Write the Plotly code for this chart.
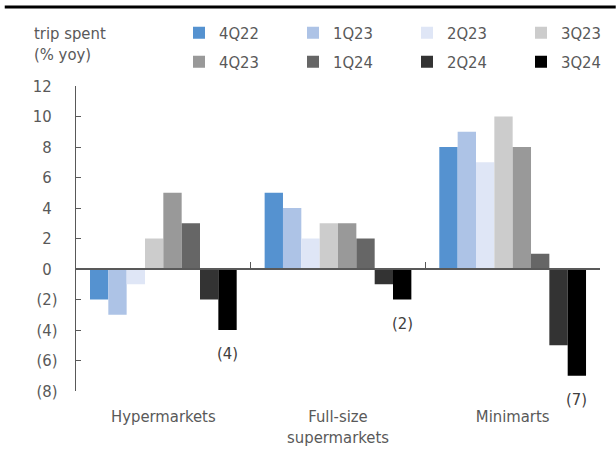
import plotly.graph_objects as go

# Per-trip spending growth by store format (% yoy)
categories = ["Hypermarkets", "Full-size<br>supermarkets", "Minimarts"]
quarters = ["4Q22", "1Q23", "2Q23", "3Q23", "4Q23", "1Q24", "2Q24", "3Q24"]
hypermarkets = [-2, -3, -1, 2, 5, 3, -2, -4]
full_size = [5, 4, 2, 3, 3, 2, -1, -2]
minimarts = [8, 9, 7, 10, 8, 1, -5, -7]
colors = ["#5592d0", "#adc3e6", "#dfe6f6", "#cccccc",
          "#999999", "#666666", "#333333", "#000000"]
y_ticks = [-8, -6, -4, -2, 0, 2, 4, 6, 8, 10, 12]

FONT = "DejaVu Sans Condensed, DejaVu Sans, sans-serif"
TXT = "#595959"
AXIS = "#595959"
FS = 16.5
BARGAP = 0.16


def fmt(v):
    return f"({abs(v)})" if v < 0 else f"{v}"


def fmt_axis(v):
    # accounting style: positives keep a hidden ")" so digits line up
    if v < 0:
        return fmt(v)
    return f'{v}<span style="color:rgba(0,0,0,0)">)</span>'


series = [list(vals) for vals in zip(hypermarkets, full_size, minimarts)]

fig = go.Figure()
for i, (q, vals) in enumerate(zip(quarters, series)):
    fig.add_trace(go.Bar(
        x=categories, y=vals, name=q,
        marker=dict(color=colors[i], line=dict(width=0)),
        legend="legend" if i < 4 else "legend2",
        hoverinfo="skip",
    ))

# carrier trace for the zero-line axis with its category boundary ticks
fig.add_trace(go.Scatter(x=[-0.5, 2.5], y=[0, 0], mode="none", xaxis="x2",
                         showlegend=False, hoverinfo="skip"))

# value labels under the last quarter's bars
n = len(quarters)
last_offset = (1 - BARGAP) * ((n - 0.5) / n - 0.5)
for i, v in enumerate(series[-1]):
    fig.add_annotation(x=i + last_offset, y=v, xref="x2", yref="y",
                       text=fmt(v), showarrow=False, yanchor="top", yshift=-12,
                       font=dict(family=FONT, size=FS, color="#404040"))

fig.add_annotation(xref="paper", yref="paper", x=-0.084, y=1.138,
                   xanchor="left", yanchor="middle", align="left",
                   text="trip spent<br>(% yoy)", showarrow=False,
                   font=dict(family=FONT, size=FS, color=TXT))

# rule across the top of the page
fig.add_shape(type="line", xref="paper", yref="paper",
              x0=-0.136, x1=1.03, y0=1.259, y1=1.259,
              line=dict(color="#000000", width=3))

leg_common = dict(orientation="h", xref="container", yref="container",
                  xanchor="left", yanchor="middle", entrywidth=69,
                  bgcolor="rgba(0,0,0,0)", borderwidth=0,
                  font=dict(family=FONT, size=FS, color=TXT))

fig.update_layout(
    width=616, height=456,
    margin=dict(l=76, r=16, t=86, b=65, autoexpand=False),
    paper_bgcolor="white", plot_bgcolor="white",
    barmode="group", bargap=BARGAP, bargroupgap=0,
    font=dict(family=FONT, size=FS, color=TXT),
    showlegend=True,
    legend=dict(x=179 / 616, y=1 - 33 / 456, **leg_common),
    legend2=dict(x=179 / 616, y=1 - 62 / 456, **leg_common),
    xaxis=dict(type="category", range=[-0.5, 2.5], showline=False,
               ticks="", showgrid=False, zeroline=False,
               ticklabelstandoff=13,
               tickfont=dict(family=FONT, size=FS, color=TXT)),
    xaxis2=dict(overlaying="x", anchor="free", position=8 / 20, side="bottom",
                range=[-0.5, 2.5], tickvals=[-0.5, 0.5, 1.5, 2.5],
                showticklabels=False, ticks="inside", ticklen=6, tickwidth=1.3,
                tickcolor=AXIS, showline=True, linecolor=AXIS, linewidth=1.5,
                showgrid=False, zeroline=False),
    yaxis=dict(range=[-8, 12], tickvals=y_ticks,
               ticktext=[fmt_axis(v) for v in y_ticks],
               showline=True, linecolor=AXIS, linewidth=1.3,
               ticks="inside", ticklen=5, tickwidth=1.3, tickcolor=AXIS,
               showgrid=False, zeroline=False, ticklabelstandoff=14,
               tickfont=dict(family=FONT, size=FS, color=TXT)),
)

fig.write_html("out.html")
